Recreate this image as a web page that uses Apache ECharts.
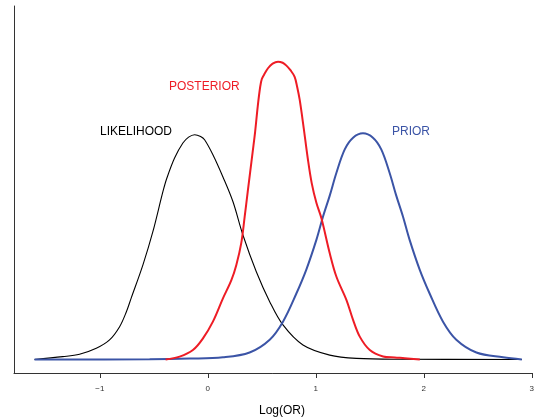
<!DOCTYPE html>
<html>
<head>
<meta charset="utf-8">
<script src="https://cdn.jsdelivr.net/npm/echarts@6/dist/echarts.min.js"></script>
<style>
html,body{margin:0;padding:0;background:#fff;}
#c{width:537px;height:420px;}
</style>
</head>
<body>
<div id="c"></div>
<script>
// Data (x = log(OR), y = density)
var likelihoodX = [-1.605,-1.343,-1.188,-1.033,-0.910,-0.817,-0.755,-0.709,-0.601,-0.509,-0.416,-0.379,-0.308,-0.231,-0.178,-0.122,-0.067,-0.030,0.047,0.140,0.233,0.325,0.449,0.573,0.696,0.881,1.129,1.376,1.778,2.908];
var likelihoodY = [0,0.013,0.024,0.051,0.089,0.149,0.216,0.280,0.430,0.581,0.763,0.825,0.916,0.984,1.011,1.022,1.014,0.999,0.931,0.830,0.717,0.566,0.399,0.263,0.157,0.066,0.020,0.005,0.001,0];

var posteriorX = [-0.391,-0.261,-0.138,-0.045,0.047,0.140,0.218,0.264,0.310,0.341,0.369,0.392,0.415,0.438,0.462,0.485,0.500,0.522,0.557,0.600,0.650,0.693,0.728,0.767,0.804,0.827,0.851,0.888,0.925,0.962,1.006,1.052,1.129,1.191,1.284,1.345,1.407,1.500,1.623,1.731,1.824,1.963];
var posteriorY = [0,0.013,0.043,0.096,0.172,0.278,0.361,0.430,0.530,0.648,0.761,0.852,0.943,1.035,1.150,1.240,1.275,1.296,1.324,1.345,1.354,1.349,1.336,1.314,1.285,1.240,1.180,1.052,0.916,0.802,0.711,0.642,0.483,0.376,0.270,0.180,0.104,0.043,0.014,0.009,0.006,0];

var priorX = [-1.605,-0.539,-0.169,0.140,0.387,0.573,0.696,0.820,0.913,1.006,1.067,1.129,1.191,1.268,1.345,1.437,1.529,1.606,1.683,1.745,1.807,1.868,1.961,2.054,2.178,2.301,2.487,2.734,2.908];
var priorY = [0,0.001,0.004,0.010,0.032,0.090,0.172,0.300,0.410,0.545,0.650,0.745,0.849,0.955,1.008,1.028,1.008,0.955,0.849,0.745,0.650,0.545,0.410,0.300,0.172,0.090,0.032,0.010,0];

var xTicks = [-1,0,1,2,3];
var seriesNames = ['LIKELIHOOD','PRIOR','POSTERIOR'];

function pairs(xs, ys){ return xs.map(function(x,i){ return [x, ys[i]]; }); }

var FONT = '"Liberation Sans", Arial, Helvetica, sans-serif';
var RED = '#ee1c25', BLUE = '#3b54a6', BLACK = '#000000';
var SMOOTH = 0.35;

var chart = echarts.init(document.getElementById('c'), null, {renderer:'canvas'});
chart.setOption({
  animation: false,
  backgroundColor: '#ffffff',
  grid: {left: 14, right: 5, top: 6, bottom: 47, containLabel: false},
  xAxis: {
    type: 'value', min: -1.795, max: 3.0,
    splitLine: {show: false},
    axisLine: {show: true, onZero: false, lineStyle: {color: '#333', width: 1}},
    axisTick: {show: true, length: 5, inside: false, customValues: xTicks, lineStyle: {color: '#333'}},
    axisLabel: {show: true, customValues: xTicks, fontSize: 8, color: '#333', margin: 12, fontFamily: FONT,
      formatter: function(v){ return v < 0 ? '\u2212' + Math.abs(v) : String(v); }}
  },
  yAxis: {
    type: 'value', min: -0.0614, max: 1.607,
    splitLine: {show: false},
    axisLine: {show: true, onZero: false, lineStyle: {color: '#333', width: 1}},
    axisTick: {show: false},
    axisLabel: {show: false}
  },
  series: [
    {name: seriesNames[0], type: 'line', data: pairs(likelihoodX, likelihoodY), showSymbol: false, smooth: SMOOTH,
      lineStyle: {color: BLACK, width: 1.1}, z: 2},
    {name: seriesNames[1], type: 'line', data: pairs(priorX, priorY), showSymbol: false, smooth: SMOOTH,
      lineStyle: {color: BLUE, width: 2}, z: 3},
    {name: seriesNames[2], type: 'line', data: pairs(posteriorX, posteriorY), showSymbol: false, smooth: SMOOTH,
      lineStyle: {color: RED, width: 2}, z: 4}
  ],
  graphic: [
    {type: 'text', left: 100, top: 126, style: {text: seriesNames[0], fill: BLACK, font: '12px ' + FONT}},
    {type: 'text', left: 169, top: 81, style: {text: seriesNames[2], fill: RED, font: '12px ' + FONT}},
    {type: 'text', left: 392, top: 126, style: {text: seriesNames[1], fill: BLUE, font: '12px ' + FONT}},
    {type: 'text', left: 259, top: 405, style: {text: 'Log(OR)', fill: '#000', font: '12px ' + FONT}}
  ]
});
</script>
</body>
</html>
